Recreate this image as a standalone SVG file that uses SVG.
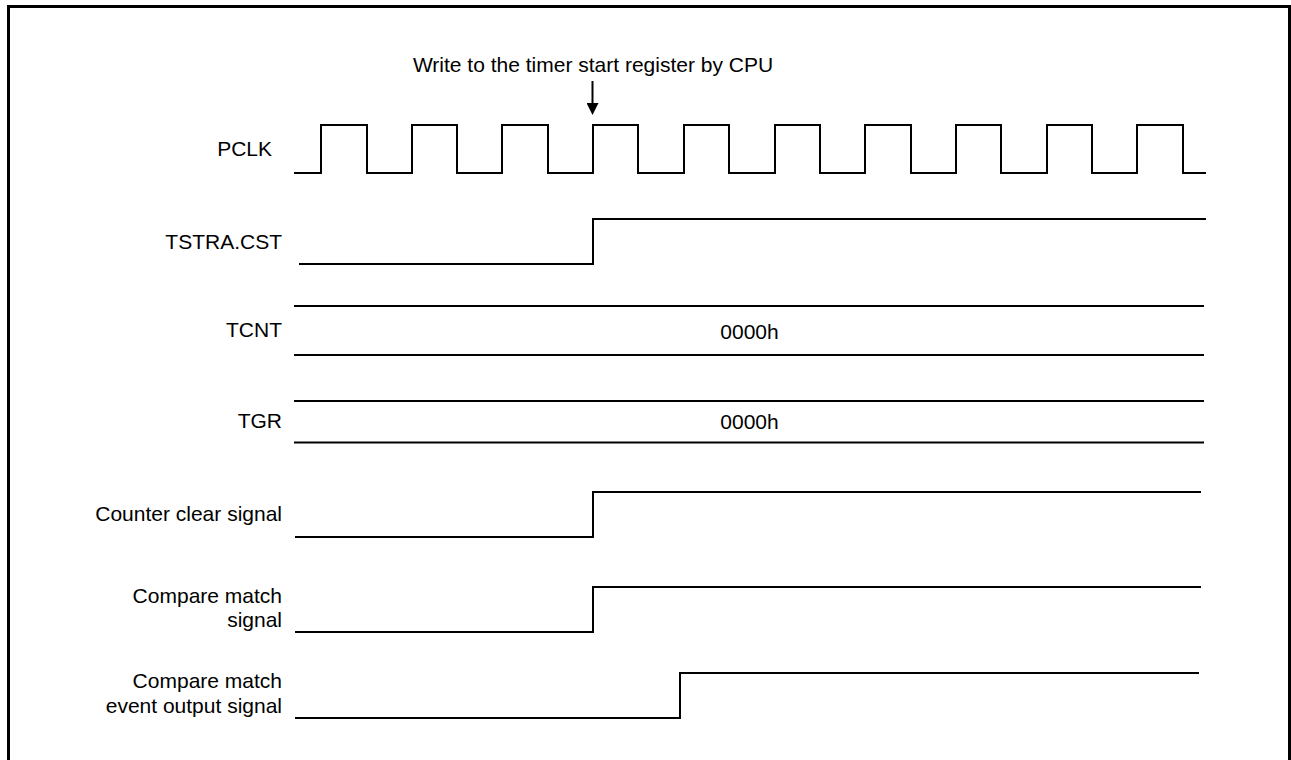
<svg xmlns="http://www.w3.org/2000/svg" width="1291" height="760" viewBox="0 0 1291 760">
<defs>
<style>
.lbl{font-family:"Liberation Sans",Arial,sans-serif;font-size:21px;fill:#000;text-anchor:end}
.val{font-family:"Liberation Sans",Arial,sans-serif;font-size:21px;fill:#000;text-anchor:middle}
.sig{fill:none;stroke:#000;stroke-width:2;stroke-linejoin:miter;stroke-linecap:butt}
</style>
<marker id="arrow" markerWidth="12" markerHeight="12" refX="0" refY="6" orient="auto" markerUnits="userSpaceOnUse" viewBox="0 0 12 12">
<path d="M0,0 L12,6 L0,12 Z" fill="#000"/>
</marker>
</defs>
<rect width="1291" height="760" fill="#fff"/>
<path d="M8.5,760 V6.5 H1289.5 V760" fill="none" stroke="#000" stroke-width="3"/>

<g id="pclk">
<text class="lbl" x="272" y="156">PCLK</text>
<path class="sig" d="M294,173 H321 V125 H367 V173 H412 V125 H457 V173 H502 V125 H548 V173 H593 V125 H638 V173 H684 V125 H729 V173 H775 V125 H820 V173 H865 V125 H911 V173 H956 V125 H1001 V173 H1047 V125 H1092 V173 H1137 V125 H1183 V173 H1206"/>
</g>

<g id="tstra">
<text class="lbl" x="282" y="249">TSTRA.CST</text>
<path class="sig" d="M299,264 H593 V219 H1206"/>
</g>

<g id="tcnt">
<text class="lbl" x="282" y="337">TCNT</text>
<path class="sig" d="M294,306 H1204 M294,355 H1204"/>
<text class="val" x="749.5" y="339">0000h</text>
</g>

<g id="tgr">
<text class="lbl" x="282" y="428">TGR</text>
<path class="sig" d="M294,401 H1204 M294,442.5 H1204"/>
<text class="val" x="749.5" y="429">0000h</text>
</g>

<g id="counter-clear">
<text class="lbl" x="282" y="521">Counter clear signal</text>
<path class="sig" d="M295,537 H593 V492 H1201"/>
</g>

<g id="compare-match">
<text class="lbl" x="282" y="603">Compare match</text>
<text class="lbl" x="282" y="627">signal</text>
<path class="sig" d="M295,632 H593 V587 H1201"/>
</g>

<g id="compare-match-event">
<text class="lbl" x="282" y="688">Compare match</text>
<text class="lbl" x="282" y="713">event output signal</text>
<path class="sig" d="M295,718 H680 V673 H1199"/>
</g>

<g id="connectors">
<text class="val" x="593" y="72">Write to the timer start register by CPU</text>
<line x1="592.5" y1="81" x2="592.5" y2="103" stroke="#000" stroke-width="2" marker-end="url(#arrow)"/>
</g>
</svg>
